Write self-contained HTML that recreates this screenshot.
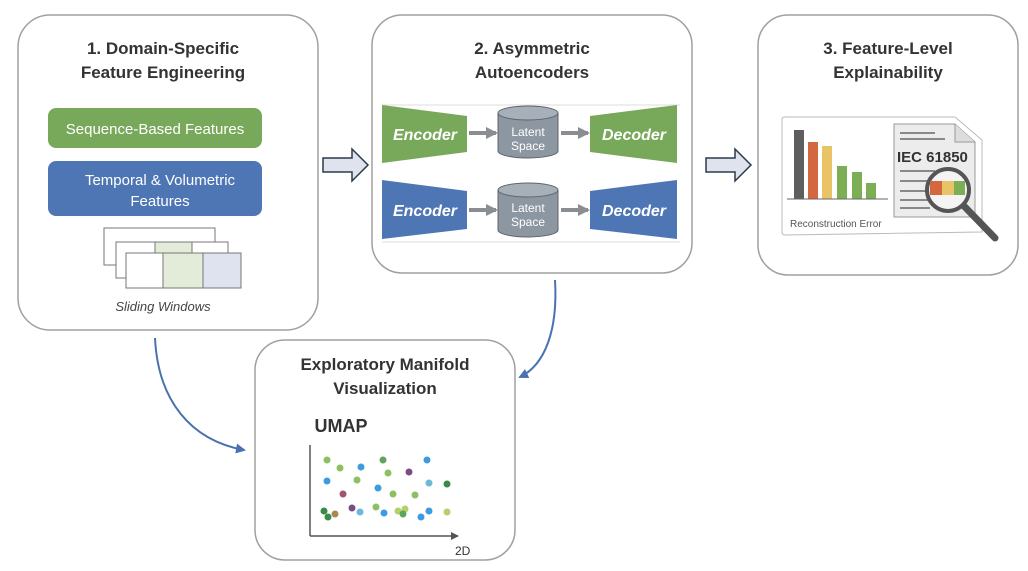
<!DOCTYPE html>
<html><head><meta charset="utf-8"><style>
html,body{margin:0;padding:0;background:#fff;}
svg{display:block;}
text{font-family:"Liberation Sans",sans-serif;}
</style></head><body>
<svg width="1028" height="571" viewBox="0 0 1028 571" xmlns="http://www.w3.org/2000/svg">
<defs>
<marker id="ah" markerWidth="10" markerHeight="10" refX="8" refY="5" orient="auto" markerUnits="userSpaceOnUse"><path d="M0,0 L10,5 L0,10 Z" fill="#4a72b0"/></marker>
<marker id="ga" markerWidth="12" markerHeight="12" refX="10" refY="6" orient="auto" markerUnits="userSpaceOnUse"><path d="M0,0 L12,6 L0,12 Z" fill="#8a8d91"/></marker>
<marker id="ka" markerWidth="8" markerHeight="8" refX="7" refY="4" orient="auto" markerUnits="userSpaceOnUse"><path d="M0,0 L8,4 L0,8 Z" fill="#555"/></marker>
</defs>
<rect x="18" y="15" width="300" height="315" rx="32" fill="#fff" stroke="#a0a0a0" stroke-width="1.5"/>
<rect x="372" y="15" width="320" height="258" rx="30" fill="#fff" stroke="#a0a0a0" stroke-width="1.5"/>
<rect x="758" y="15" width="260" height="260" rx="30" fill="#fff" stroke="#a0a0a0" stroke-width="1.5"/>
<rect x="255" y="340" width="260" height="220" rx="30" fill="#fff" stroke="#a0a0a0" stroke-width="1.5"/>
<g font-weight="bold" font-size="17" fill="#333" text-anchor="middle">
<text x="163" y="54">1. Domain-Specific</text><text x="163" y="78">Feature Engineering</text>
<text x="532" y="54">2. Asymmetric</text><text x="532" y="78">Autoencoders</text>
<text x="888" y="54">3. Feature-Level</text><text x="888" y="78">Explainability</text>
<text x="385" y="370">Exploratory Manifold</text><text x="385" y="394">Visualization</text>
</g>
<rect x="48" y="108" width="214" height="40" rx="8" fill="#78a85a"/>
<text x="155" y="134" text-anchor="middle" font-size="15" fill="#fff">Sequence-Based Features</text>
<rect x="48" y="161" width="214" height="55" rx="8" fill="#4e76b4"/>
<text x="160" y="185" text-anchor="middle" font-size="15" fill="#fff">Temporal &amp; Volumetric</text>
<text x="160" y="206" text-anchor="middle" font-size="15" fill="#fff">Features</text>
<rect x="104" y="228" width="111" height="37" fill="#fff" stroke="#777"/>
<rect x="116" y="242" width="112" height="36" fill="#fff" stroke="#777"/>
<rect x="155" y="242" width="37" height="11" fill="#e2ecd9" stroke="#777"/>
<rect x="126" y="253" width="37" height="35" fill="#fff" stroke="#777"/>
<rect x="163" y="253" width="40" height="35" fill="#e2ecd9" stroke="#777"/>
<rect x="203" y="253" width="38" height="35" fill="#dfe2ef" stroke="#777"/>
<text x="163" y="311" text-anchor="middle" font-size="13" font-style="italic" fill="#444">Sliding Windows</text>
<path d="M323,158 L352,158 L352,149 L368,165 L352,181 L352,172 L323,172 Z" fill="#dfe3ee" stroke="#2a3a48" stroke-width="1.5"/>
<path d="M706,158 L735,158 L735,149 L751,165 L735,181 L735,172 L706,172 Z" fill="#dfe3ee" stroke="#2a3a48" stroke-width="1.5"/>
<line x1="382" y1="105" x2="680" y2="105" stroke="#ddd"/>
<line x1="382" y1="242" x2="680" y2="242" stroke="#ddd"/>
<g>
<path d="M382,105 L467,116 L467,152 L382,163 Z" fill="#78a85a"/>
<text x="425" y="140" text-anchor="middle" font-size="16" font-weight="bold" font-style="italic" fill="#fff">Encoder</text>
<path d="M590,116 L677,105 L677,163 L590,152 Z" fill="#78a85a"/>
<text x="634" y="140" text-anchor="middle" font-size="16" font-weight="bold" font-style="italic" fill="#fff">Decoder</text>
<path d="M498,113 L498,151 A30,7 0 0 0 558,151 L558,113 Z" fill="#8d97a2" stroke="#5c646d"/>
<ellipse cx="528" cy="113" rx="30" ry="7" fill="#a7b0b9" stroke="#5c646d"/>
<text x="528" y="136" text-anchor="middle" font-size="12" fill="#fff">Latent</text>
<text x="528" y="150" text-anchor="middle" font-size="12" fill="#fff">Space</text>
<line x1="469" y1="133" x2="496" y2="133" stroke="#8a8d91" stroke-width="4" marker-end="url(#ga)"/>
<line x1="561" y1="133" x2="588" y2="133" stroke="#8a8d91" stroke-width="4" marker-end="url(#ga)"/>
</g>
<g>
<path d="M382,180 L467,191 L467,229 L382,239 Z" fill="#4e76b4"/>
<text x="425" y="216" text-anchor="middle" font-size="16" font-weight="bold" font-style="italic" fill="#fff">Encoder</text>
<path d="M590,191 L677,180 L677,239 L590,229 Z" fill="#4e76b4"/>
<text x="634" y="216" text-anchor="middle" font-size="16" font-weight="bold" font-style="italic" fill="#fff">Decoder</text>
<path d="M498,190 L498,230 A30,7 0 0 0 558,230 L558,190 Z" fill="#8d97a2" stroke="#5c646d"/>
<ellipse cx="528" cy="190" rx="30" ry="7" fill="#a7b0b9" stroke="#5c646d"/>
<text x="528" y="212" text-anchor="middle" font-size="12" fill="#fff">Latent</text>
<text x="528" y="226" text-anchor="middle" font-size="12" fill="#fff">Space</text>
<line x1="469" y1="210" x2="496" y2="210" stroke="#8a8d91" stroke-width="4" marker-end="url(#ga)"/>
<line x1="561" y1="210" x2="588" y2="210" stroke="#8a8d91" stroke-width="4" marker-end="url(#ga)"/>
</g>
<path d="M782,119 Q782,117 785,117 L955,117 L982,140 L982,232 L785,235 Q782,235 782,232 Z" fill="#fff" stroke="#bbb"/>
<rect x="794" y="130" width="10" height="69" fill="#5e5e5e"/>
<rect x="808" y="142" width="10" height="57" fill="#d4673f"/>
<rect x="822" y="146" width="10" height="53" fill="#e8c466"/>
<rect x="837" y="166" width="10" height="33" fill="#7cae55"/>
<rect x="852" y="172" width="10" height="27" fill="#7cae55"/>
<rect x="866" y="183" width="10" height="16" fill="#7cae55"/>
<line x1="787" y1="199" x2="888" y2="199" stroke="#666"/>
<text x="790" y="227" font-size="10" fill="#555">Reconstruction Error</text>
<path d="M894,124 L955,124 L975,142 L975,217 L894,217 Z" fill="#ececec" stroke="#999"/>
<path d="M955,124 L955,142 L975,142" fill="#ddd" stroke="#999"/>
<g stroke="#888" stroke-width="2"><line x1="900" y1="133" x2="935" y2="133"/><line x1="900" y1="139" x2="945" y2="139"/><line x1="900" y1="171" x2="935" y2="171"/><line x1="900" y1="181" x2="935" y2="181"/><line x1="900" y1="191" x2="930" y2="191"/><line x1="900" y1="200" x2="930" y2="200"/><line x1="900" y1="208" x2="930" y2="208"/></g>
<text x="897" y="162" font-size="15" font-weight="bold" fill="#333">IEC 61850</text>
<line x1="963" y1="205" x2="995" y2="238" stroke="#555" stroke-width="7" stroke-linecap="round"/>
<circle cx="948" cy="190" r="21" fill="#f4f4f4" stroke="#555" stroke-width="4"/>
<rect x="930" y="181" width="12" height="14" fill="#d4673f"/><rect x="942" y="181" width="12" height="14" fill="#e8c466"/><rect x="954" y="181" width="11" height="14" fill="#7cae55"/>
<path d="M155,338 C158,400 190,440 244,450" fill="none" stroke="#4a72b0" stroke-width="2" marker-end="url(#ah)"/>
<path d="M555,280 C558,330 545,365 520,377" fill="none" stroke="#4a72b0" stroke-width="2" marker-end="url(#ah)"/>
<text x="341" y="432" text-anchor="middle" font-size="18" font-weight="bold" fill="#333">UMAP</text>
<line x1="310" y1="445" x2="310" y2="536" stroke="#555" stroke-width="1.5"/>
<line x1="310" y1="536" x2="458" y2="536" stroke="#555" stroke-width="1.5" marker-end="url(#ka)"/>
<text x="455" y="555" font-size="12" fill="#333">2D</text>
<g>
<circle cx="327" cy="460" r="3.5" fill="#8cc063"/><circle cx="340" cy="468" r="3.5" fill="#8cc063"/><circle cx="361" cy="467" r="3.5" fill="#3d9be0"/><circle cx="383" cy="460" r="3.5" fill="#5fa65a"/><circle cx="427" cy="460" r="3.5" fill="#3d9be0"/><circle cx="388" cy="473" r="3.5" fill="#8cc063"/><circle cx="409" cy="472" r="3.5" fill="#7a4d85"/><circle cx="327" cy="481" r="3.5" fill="#3d9be0"/><circle cx="357" cy="480" r="3.5" fill="#8cc063"/><circle cx="378" cy="488" r="3.5" fill="#3d9be0"/><circle cx="429" cy="483" r="3.5" fill="#6bb8d8"/><circle cx="447" cy="484" r="3.5" fill="#3a8a4a"/><circle cx="343" cy="494" r="3.5" fill="#a0566a"/><circle cx="393" cy="494" r="3.5" fill="#8cc063"/><circle cx="415" cy="495" r="3.5" fill="#8cc063"/><circle cx="324" cy="511" r="3.5" fill="#3a8a4a"/><circle cx="328" cy="517" r="3.5" fill="#3a8a4a"/><circle cx="335" cy="514" r="3.5" fill="#a88a50"/><circle cx="352" cy="508" r="3.5" fill="#7a4d85"/><circle cx="360" cy="512" r="3.5" fill="#6bb8d8"/><circle cx="376" cy="507" r="3.5" fill="#8cc063"/><circle cx="384" cy="513" r="3.5" fill="#3d9be0"/><circle cx="398" cy="511" r="3.5" fill="#b5d06a"/><circle cx="405" cy="509" r="3.5" fill="#b5d06a"/><circle cx="403" cy="514" r="3.5" fill="#5fa65a"/><circle cx="421" cy="517" r="3.5" fill="#3d9be0"/><circle cx="429" cy="511" r="3.5" fill="#3d9be0"/><circle cx="447" cy="512" r="3.5" fill="#b5d06a"/>
</g>
</svg>
</body></html>
